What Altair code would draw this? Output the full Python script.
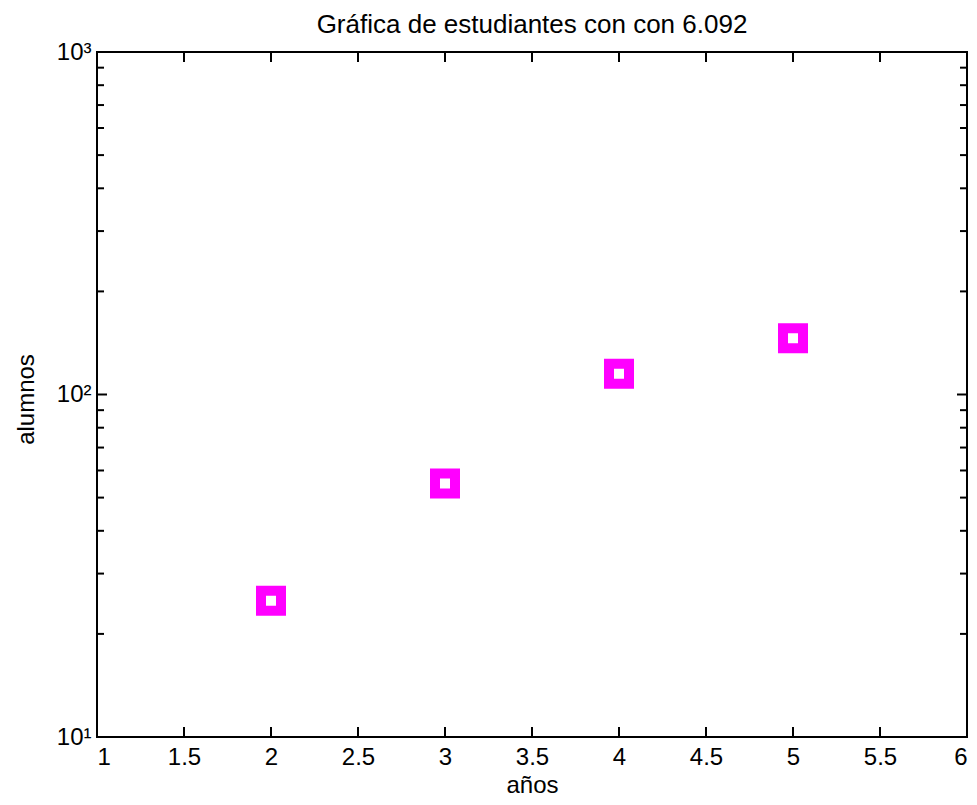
import altair as alt
import pandas as pd

# data
title_text = "Gráfica de estudiantes con con 6.092"
years = [2, 3, 4, 5]
students = [25, 55, 115, 146]
x_tick_values = [1, 1.5, 2, 2.5, 3, 3.5, 4, 4.5, 5, 5.5, 6]
y_major_values = [10, 100, 1000]
y_minor_values = [20, 30, 40, 50, 60, 70, 80, 90, 200, 300, 400, 500, 600, 700, 800, 900]

W, H = 870, 685
FONT = "Liberation Sans"
MAJ, MIN = 10, 7

pts = pd.DataFrame({"x": years, "y": students})
xt = pd.DataFrame({"x": x_tick_values})
ymaj = pd.DataFrame({"y": y_major_values})
ymin = pd.DataFrame({"y": y_minor_values})
ttl = pd.DataFrame({"t": [title_text]})

xscale = alt.Scale(domain=[1, 6], nice=False, zero=False)
yscale = alt.Scale(type="log", domain=[10, 1000], nice=False)

points = alt.Chart(pts).mark_point(
    shape="square", filled=False, size=400, strokeWidth=10,
    color="#FF00FF", opacity=1
).encode(
    x=alt.X("x:Q", scale=xscale, axis=alt.Axis(
        values=x_tick_values, format="~g", title="años",
        labelPadding=8, titleY=55, titleBaseline="alphabetic")),
    y=alt.Y("y:Q", scale=yscale, axis=alt.Axis(
        values=y_major_values,
        labelExpr="datum.value == 10 ? '10¹' : (datum.value == 100 ? '10²' : '10³')",
        title="alumnos", labelPadding=6,
        titleX=-64, titleY=347, titleAngle=-90, titleBaseline="alphabetic", titleAlign="center")),
)

rule = dict(color="black", strokeWidth=2)

x_top = alt.Chart(xt).mark_rule(**rule).encode(
    x=alt.X("x:Q", scale=xscale), y=alt.value(0), y2=alt.value(MAJ))
x_bot = alt.Chart(xt).mark_rule(**rule).encode(
    x=alt.X("x:Q", scale=xscale), y=alt.value(H), y2=alt.value(H - MAJ))
yl_maj = alt.Chart(ymaj).mark_rule(**rule).encode(
    y=alt.Y("y:Q", scale=yscale), x=alt.value(0), x2=alt.value(MAJ))
yr_maj = alt.Chart(ymaj).mark_rule(**rule).encode(
    y=alt.Y("y:Q", scale=yscale), x=alt.value(W), x2=alt.value(W - MAJ))
yl_min = alt.Chart(ymin).mark_rule(**rule).encode(
    y=alt.Y("y:Q", scale=yscale), x=alt.value(0), x2=alt.value(MIN))
yr_min = alt.Chart(ymin).mark_rule(**rule).encode(
    y=alt.Y("y:Q", scale=yscale), x=alt.value(W), x2=alt.value(W - MIN))

title_mark = alt.Chart(ttl).mark_text(
    font=FONT, fontSize=26, color="black", align="center", baseline="alphabetic"
).encode(text="t:N", x=alt.value(W / 2), y=alt.value(-19))

chart = alt.layer(points, x_top, x_bot, yl_maj, yr_maj, yl_min, yr_min, title_mark).properties(
    width=W, height=H,
    autosize=alt.AutoSizeParams(type="none"),
    padding={"left": 89, "top": 44, "right": 1, "bottom": 60},
).configure(
    background="white"
).configure_view(
    stroke="black", strokeWidth=2
).configure_axis(
    domain=False, ticks=False, tickSize=0, grid=False,
    labelFont=FONT, labelFontSize=24, labelColor="black",
    titleFont=FONT, titleFontSize=24, titleFontWeight="normal", titleColor="black",
)

chart.save("out.html", embed_options={"renderer": "svg", "actions": False})
